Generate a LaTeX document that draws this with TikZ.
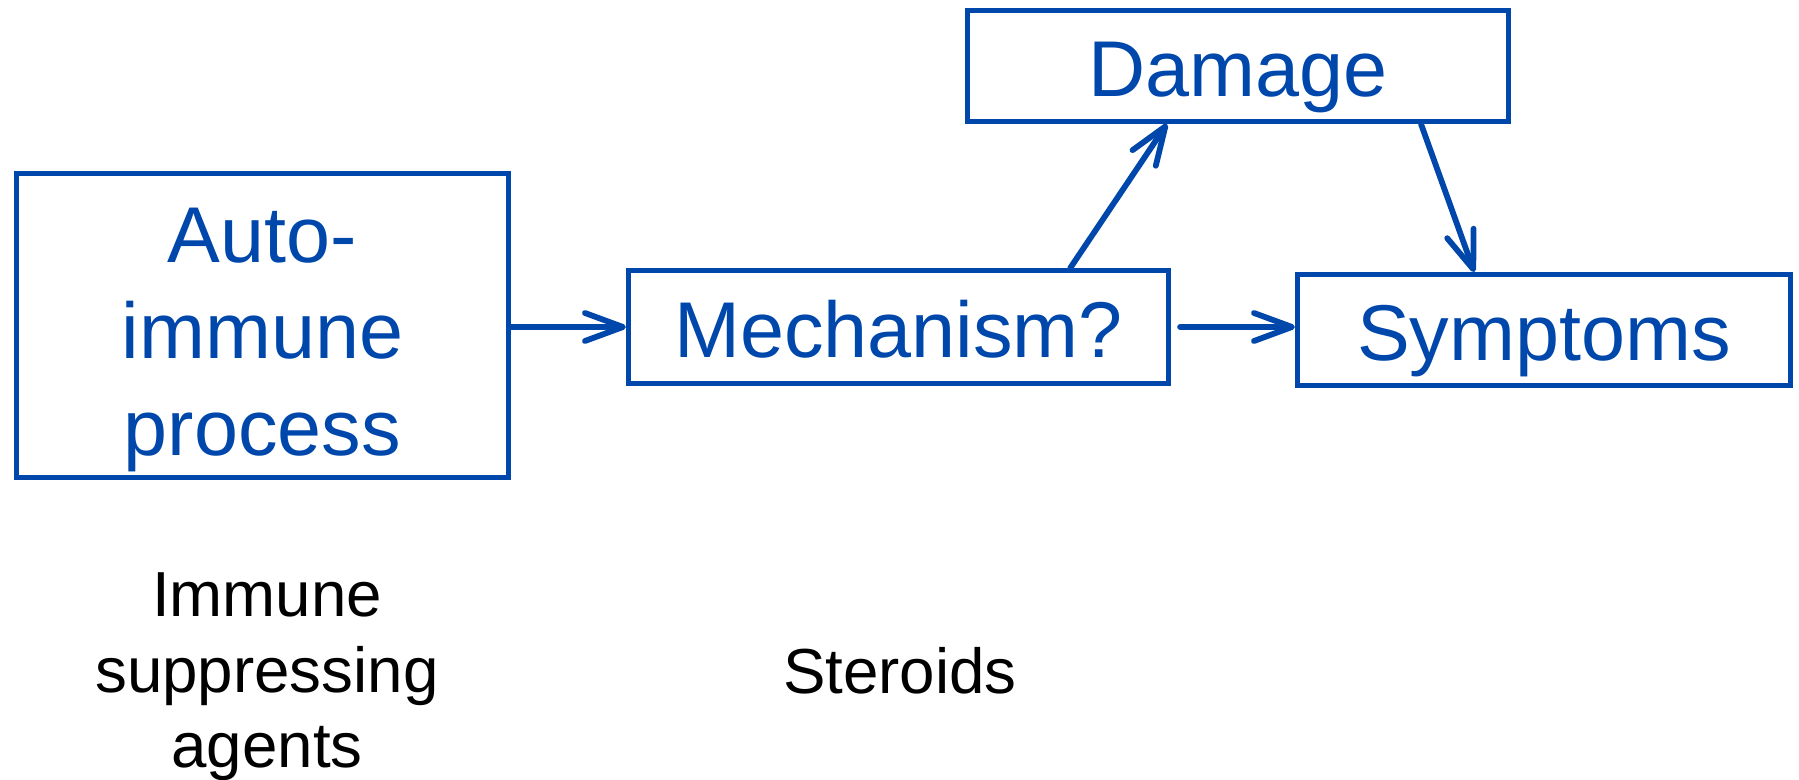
\documentclass[tikz,border=0pt]{standalone}
\usepackage{fontspec}
\setmainfont{Liberation Sans}
\usetikzlibrary{arrows.meta, calc}

\definecolor{diagblue}{RGB}{0,71,171}

\begin{document}
\begin{tikzpicture}[
    x=0.01cm, y=-0.01cm,
    box/.style={
        rectangle,
        draw=diagblue,
        line width=1.4pt,
        text=diagblue,
        inner sep=0pt,
        text height=0.75cm,
        text depth=0.15cm,
        font=\fontsize{22.5}{27.4}\selectfont
    },
    note/.style={
        align=center,
        inner sep=0pt,
        font=\fontsize{18.1}{21.5}\selectfont
    },
    link/.style={
        draw=diagblue,
        line width=1.65pt,
        line cap=round,
        -{Straight Barb[length=3.8mm, width=2.8mm, line width=1.65pt, round]}
    }
    ]
    \useasboundingbox (0,0) rectangle (1799,780);

    \node[box, minimum width=4.92cm, minimum height=3.04cm, align=center,
          text height=78pt, text depth=4.2pt] (auto) at (262.5,325.5) {Auto-\\immune\\process};
    \node[box, minimum width=5.40cm, minimum height=1.13cm] (mech) at (898.5,327) {Mechanism?};
    \node[box, minimum width=5.41cm, minimum height=1.11cm] (damage) at (1238,66) {Damage};
    \node[box, minimum width=4.93cm, minimum height=1.11cm] (symp) at (1544,330) {Symptoms};

    \node[note] (agents) at (267,677) {Immune\\suppressing\\agents};
    \node[note] (steroids) at (900,671) {Steroids};

    \draw[link] (auto.east |- mech.west) -- (mech.west);
    \draw[link, shorten <=0.09cm] (mech.east) -- (mech.east -| symp.west);
    \draw[link] ($(mech.north west)!0.815!(mech.north east)$) -- ($(damage.south west)!0.37!(damage.south east)$);
    \draw[link] ($(damage.south west)!0.835!(damage.south east)$) -- ($(symp.north west)!0.36!(symp.north east)$);
\end{tikzpicture}
\end{document}
